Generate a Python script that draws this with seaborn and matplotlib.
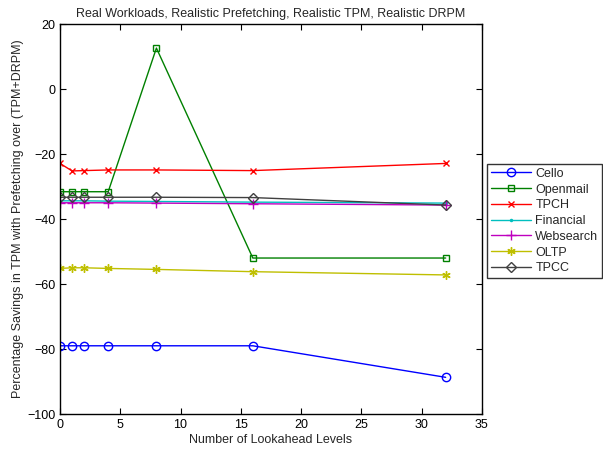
import matplotlib
matplotlib.use("Agg")
import matplotlib.pyplot as plt
import seaborn as sns
import pandas as pd

levels = [0, 1, 2, 4, 8, 16, 32]
cello = [-79, -79, -79, -79, -79, -79, -88.7]
openmail = [-31.6, -31.6, -31.6, -31.6, 12.6, -52, -52]
tpch = [-22.9, -25.2, -25.1, -24.9, -24.9, -25.1, -22.9]
financial = [-34.4, -34.4, -34.4, -34.5, -34.6, -34.8, -35.1]
websearch = [-35.0, -35.0, -35.0, -35.0, -35.1, -35.3, -35.7]
oltp = [-55.2, -55.0, -55.0, -55.2, -55.5, -56.2, -57.2]
tpcc = [-33.3, -33.3, -33.3, -33.3, -33.3, -33.4, -35.7]

series_names = ["Cello", "Openmail", "TPCH", "Financial", "Websearch", "OLTP", "TPCC"]
series_vals = [cello, openmail, tpch, financial, websearch, oltp, tpcc]
colors = [(0, 0, 1), (0, 0.5, 0), (1, 0, 0), (0, 0.75, 0.75), (0.75, 0, 0.75), (0.75, 0.75, 0), (0.25, 0.25, 0.25)]
markers = ["o", "s", "x", ".", "+", (6, 2, 0), "D"]
msizes = [6, 5, 5, 3, 7, 6, 5]

sns.set_style("white")
plt.rcParams["font.family"] = ["Liberation Sans", "DejaVu Sans"]
plt.rcParams["xtick.direction"] = "in"
plt.rcParams["ytick.direction"] = "in"

fig = plt.figure(figsize=(6.03, 4.53), dpi=100)
ax = fig.add_axes([0.0995, 0.086, 0.6995, 0.861])

for name, vals, c, m, ms in zip(series_names, series_vals, colors, markers, msizes):
    df = pd.DataFrame({"x": levels, "y": vals})
    sns.lineplot(data=df, x="x", y="y", ax=ax, color=c, marker=m, markersize=ms,
                 markerfacecolor="none", markeredgecolor=c, markeredgewidth=1.0,
                 linewidth=1.0, label=name)

ax.set_xlim(0, 35)
ax.set_ylim(-100, 20)
ax.set_xticks([0, 5, 10, 15, 20, 25, 30, 35])
ax.set_yticks([-100, -80, -60, -40, -20, 0, 20])
ax.set_yticklabels(["\u2212100", "\u221280", "\u221260", "\u221240", "\u221220", "0", "20"])
ax.tick_params(axis="both", labelsize=9, length=4, width=0.8, top=True, right=True,
               bottom=True, left=True, colors="black")
for s in ax.spines.values():
    s.set_visible(True)
    s.set_color("black")
    s.set_linewidth(1.0)
ax.set_xlabel("Number of Lookahead Levels", fontsize=9, labelpad=2)
ax.set_ylabel("Percentage Savings in TPM with Prefetching over (TPM+DRPM)", fontsize=9, labelpad=2)
ax.set_title("Real Workloads, Realistic Prefetching, Realistic TPM, Realistic DRPM", fontsize=9, pad=5)

leg = ax.legend(loc="center left", bbox_to_anchor=(0.808, 0.512), bbox_transform=fig.transFigure,
                frameon=True, fancybox=False, fontsize=9, handlelength=3.2, borderpad=0.3,
                labelspacing=0.3, handletextpad=0.35, borderaxespad=0)
leg.get_frame().set_edgecolor("black")
leg.get_frame().set_linewidth(1.0)

fig.savefig("out.png", dpi=100)
